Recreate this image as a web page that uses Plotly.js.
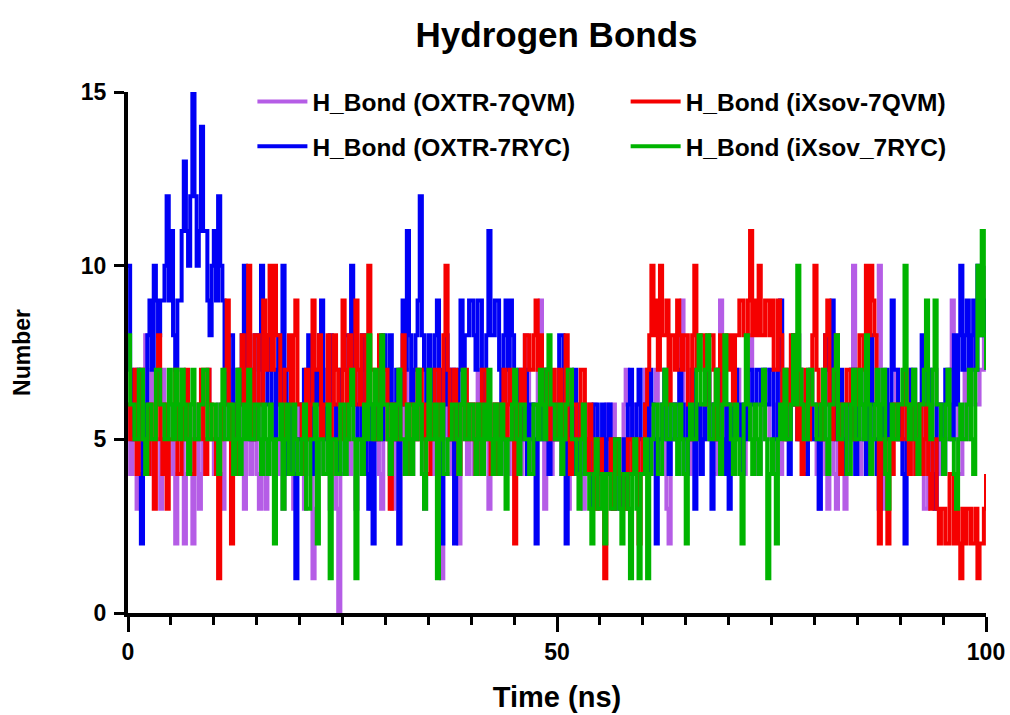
<!DOCTYPE html>
<html>
<head>
<meta charset="utf-8">
<script src="https://cdn.plot.ly/plotly-3.0.1.min.js"></script>
<style>
  html, body { margin: 0; padding: 0; background: #fff; }
  #chart { width: 1010px; height: 715px; }
</style>
</head>
<body>
<div id="chart"></div>
<script>
// Hydrogen-bond counts sampled every 0.25 ns over a 100 ns trajectory
const timeStep = 0.25;
const nFrames = 401;
const timeNs = Array.from({length: nFrames}, (_, i) => i * timeStep);

const seriesNames = [
  'H_Bond (OXTR-7QVM)',
  'H_Bond (OXTR-7RYC)',
  'H_Bond (iXsov-7QVM)',
  'H_Bond (iXsov_7RYC)'
];

// one row = 10 ns
const hbOxtr7qvm = [
  6,4, 5,6, 3,5, 7,6, 8,5, 4,7, 6,5, 5,3, 7,5, 4,6, 6,4, 2,5, 5,7, 2,4, 6,5, 2,6, 5,3, 4,6, 6,7, 5,5,
  4,5, 6,4, 3,6, 5,5, 7,4, 4,6, 5,7, 3,5, 6,4, 5,6, 4,3, 7,5, 3,4, 5,6, 6,5, 4,7, 3,5, 5,4, 6,3, 4,6,
  5,4, 3,5, 6,4, 1,3, 5,6, 4,5, 6,4, 3,6, 5,3, 0,4, 4,5, 6,4, 5,7, 3,5, 7,4, 5,6, 4,3, 6,5, 5,4, 3,6,
  5,6, 4,3, 6,5, 2,4, 5,7, 6,4, 4,5, 7,6, 5,4, 3,5, 6,5, 4,6, 5,3, 1,5, 6,4, 4,7, 5,4, 2,5, 6,5, 4,6,
  5,4, 6,7, 4,5, 7,5, 3,6, 5,4, 6,5, 4,6, 7,4, 5,6, 4,5, 6,4, 5,8, 7,5, 4,6, 6,7, 9,5, 3,7, 6,4, 5,6,
  6,5, 4,6, 5,3, 7,5, 4,6, 5,4, 3,5, 6,4, 5,6, 4,5, 3,4, 5,6, 4,3, 6,5, 5,4, 4,6, 7,5, 5,6, 6,4, 4,5,
  5,7, 6,4, 4,6, 7,5, 5,4, 6,3, 2,5, 5,6, 6,8, 9,6, 5,4, 7,5, 4,6, 6,5, 5,7, 7,6, 6,4, 4,7, 9,6, 5,6,
  6,5, 4,6, 7,5, 5,4, 6,7, 8,6, 5,4, 4,5, 6,7, 7,5, 5,4, 6,5, 4,6, 7,5, 5,6, 6,7, 8,5, 5,4, 4,6, 6,5,
  5,4, 3,5, 6,4, 3,6, 7,4, 3,5, 6,4, 3,6, 5,7, 10,6, 6,4, 5,7, 7,5, 4,6, 6,8, 10,5, 3,5, 6,4, 5,6, 7,5,
  6,5, 4,6, 7,5, 5,4, 4,6, 6,3, 3,5, 5,7, 7,4, 4,6, 6,5, 5,7, 9,6, 6,4, 4,5, 7,6, 5,7, 8,6, 6,7, 7,9, 10
];

const hbOxtr7ryc = [
  10,7, 5,6, 7,4, 2,5, 6,8, 9,7, 10,9, 8,9, 9,10, 12,9, 11,8, 7,9, 9,11, 13,11, 10,12, 15,12, 10,11, 14,11, 11,9, 8,10,
  11,9, 12,10, 9,7, 6,8, 8,6, 4,7, 6,8, 10,7, 7,5, 5,8, 8,7, 10,6, 6,8, 7,5, 5,7, 8,6, 10,7, 4,6, 6,4, 1,5,
  5,6, 7,5, 8,6, 4,7, 6,8, 9,6, 5,7, 8,6, 6,5, 4,7, 7,8, 8,6, 10,7, 6,5, 5,8, 7,4, 3,6, 2,5, 6,7, 5,8,
  7,6, 8,6, 5,7, 2,6, 9,7, 11,8, 6,7, 8,9, 12,8, 7,6, 8,7, 6,8, 9,7, 2,6, 8,6, 5,7, 2,5, 7,9, 6,8, 8,9,
  9,8, 7,9, 9,6, 6,8, 11,8, 8,9, 9,7, 5,8, 9,7, 9,8, 6,5, 7,6, 5,7, 4,6, 6,5, 2,5, 5,6, 7,5, 4,6, 6,5,
  6,8, 8,5, 2,6, 5,4, 7,5, 4,6, 6,5, 5,4, 3,6, 6,4, 5,6, 4,5, 6,4, 3,5, 4,3, 4,5, 3,6, 7,5, 5,6, 7,5,
  5,6, 4,7, 6,5, 2,5, 5,6, 7,5, 4,6, 6,5, 5,7, 6,4, 4,6, 5,7, 3,5, 6,4, 5,6, 7,5, 3,6, 5,7, 6,5, 4,6,
  3,5, 6,7, 5,6, 4,6, 5,7, 7,6, 6,7, 7,6, 7,6, 6,7, 7,5, 5,7, 9,6, 6,5, 4,7, 8,6, 5,7, 6,4, 4,6, 7,5,
  5,6, 3,5, 6,8, 7,6, 9,7, 5,6, 7,5, 4,6, 6,7, 5,4, 7,6, 6,5, 4,6, 8,6, 5,4, 3,5, 6,7, 5,6, 9,7, 7,5,
  6,4, 2,5, 5,7, 7,5, 4,6, 8,6, 6,7, 5,4, 3,6, 6,5, 4,7, 7,6, 5,8, 6,8, 10,7, 8,9, 7,8, 9,7, 10,8, 8,9, 7
];

const hbIxsov7qvm = [
  6,5, 5,7, 4,6, 7,5, 5,4, 6,5, 3,6, 8,5, 4,6, 3,5, 5,6, 7,4, 4,6, 5,7, 6,4, 4,5, 5,6, 7,5, 4,7, 6,5,
  5,4, 1,5, 6,7, 9,6, 2,5, 4,6, 7,8, 6,7, 10,7, 5,8, 8,6, 6,9, 7,8, 10,7, 10,8, 8,6, 5,7, 7,8, 6,8, 9,6,
  6,5, 4,7, 5,6, 9,7, 7,8, 5,6, 6,8, 4,6, 8,7, 6,5, 9,7, 5,8, 7,6, 9,7, 6,8, 8,6, 10,7, 7,5, 5,8, 6,7,
  7,5, 3,6, 6,5, 5,7, 8,6, 4,6, 6,5, 5,7, 7,5, 6,4, 4,6, 5,7, 7,5, 6,8, 10,7, 5,6, 7,5, 4,6, 6,7, 5,6,
  6,5, 4,6, 5,7, 7,5, 6,4, 5,6, 4,5, 6,7, 5,6, 7,5, 2,6, 5,7, 6,8, 8,7, 7,8, 9,7, 8,6, 6,7, 5,6, 7,5,
  6,7, 5,6, 8,5, 4,6, 6,5, 5,7, 7,5, 4,6, 5,4, 3,5, 5,4, 1,4, 4,5, 3,4, 5,4, 4,3, 3,5, 5,4, 4,5, 2,4,
  5,6, 7,8, 10,8, 9,7, 10,8, 8,9, 6,8, 8,7, 9,8, 7,8, 8,6, 5,8, 10,7, 7,8, 8,6, 6,8, 8,7, 5,7, 8,6, 7,8,
  7,8, 6,8, 8,9, 9,8, 8,9, 11,8, 9,8, 10,8, 8,9, 9,8, 9,7, 7,9, 8,6, 5,7, 6,8, 8,6, 5,7, 4,6, 7,5, 6,8,
  10,7, 6,5, 7,8, 9,6, 5,7, 8,6, 4,6, 6,7, 7,5, 5,7, 6,8, 8,7, 10,8, 10,9, 8,6, 2,5, 5,4, 2,5, 4,6, 6,5,
  5,6, 7,5, 4,6, 6,4, 5,6, 4,5, 6,4, 3,5, 5,3, 2,3, 3,2, 2,4, 4,2, 3,2, 1,3, 2,3, 3,2, 2,3, 1,2, 2,3, 4
];

const hbIxsov7ryc = [
  8,6, 6,5, 5,7, 7,5, 4,6, 6,5, 5,7, 7,6, 6,5, 5,7, 6,5, 7,6, 5,7, 6,5, 4,6, 7,5, 5,6, 6,7, 7,5, 5,6,
  6,5, 4,6, 7,5, 5,6, 6,4, 5,7, 4,5, 6,5, 7,5, 5,6, 6,5, 4,6, 5,4, 6,5, 2,5, 5,6, 3,5, 6,4, 4,6, 5,4,
  4,5, 6,3, 3,5, 5,6, 2,5, 5,4, 4,6, 1,5, 5,4, 4,6, 6,4, 5,6, 7,5, 1,5, 5,4, 6,5, 8,6, 5,7, 6,5, 8,6,
  6,5, 4,6, 5,6, 7,5, 5,4, 6,5, 4,6, 5,7, 6,4, 3,5, 7,5, 5,6, 1,5, 6,4, 4,5, 5,6, 6,5, 4,6, 7,5, 5,6,
  6,5, 4,6, 5,4, 6,5, 7,5, 4,6, 5,4, 6,5, 3,5, 5,6, 7,5, 4,6, 6,5, 5,4, 4,6, 6,5, 7,6, 5,7, 8,6, 6,5,
  5,6, 4,5, 6,7, 7,5, 5,4, 3,5, 6,4, 4,3, 2,4, 5,3, 3,4, 2,4, 4,3, 3,5, 5,3, 2,4, 4,3, 1,4, 5,3, 1,4,
  4,5, 1,4, 5,6, 6,4, 4,6, 7,5, 5,6, 6,5, 4,6, 5,4, 2,5, 6,5, 5,7, 8,6, 6,7, 8,5, 5,6, 7,5, 4,6, 8,6,
  6,5, 4,6, 5,4, 2,6, 8,6, 5,4, 6,5, 4,6, 7,5, 1,4, 5,4, 2,5, 6,5, 7,5, 5,6, 8,6, 10,7, 6,5, 5,7, 7,6,
  6,5, 5,6, 7,5, 4,6, 6,7, 8,5, 5,6, 6,4, 4,6, 7,5, 5,7, 6,5, 8,6, 4,5, 6,7, 5,6, 7,4, 3,5, 6,5, 5,6,
  6,7, 10,6, 5,6, 7,5, 4,6, 6,7, 9,6, 5,7, 9,6, 6,5, 4,6, 7,5, 5,4, 3,5, 6,5, 5,6, 7,5, 4,7, 10,8, 11,8, 7
];

const seriesValues = [hbOxtr7qvm, hbOxtr7ryc, hbIxsov7qvm, hbIxsov7ryc];
const seriesColors = ['#b55de6', '#0000f5', '#f50000', '#00b400'];
const seriesLegend = ['legend', 'legend', 'legend2', 'legend2'];

const FONT = 'Liberation Sans, Arial, Helvetica, sans-serif';

const traces = seriesNames.map((name, k) => ({
  type: 'scatter',
  mode: 'lines',
  name: name,
  x: timeNs,
  y: seriesValues[k],
  line: {color: seriesColors[k], width: 4, shape: 'hv'},
  legend: seriesLegend[k],
  legendgroup: 'g' + k,
  hoverinfo: 'x+y+name'
}));

const legendStyle = {
  orientation: 'v',
  xanchor: 'left',
  yanchor: 'top',
  y: 1.025,
  itemwidth: 50,
  bgcolor: 'rgba(0,0,0,0)',
  borderwidth: 0,
  tracegroupgap: 10,
  font: {family: FONT, size: 24.5, color: '#000', weight: 700}
};

const layout = {
  width: 1010,
  height: 715,
  paper_bgcolor: '#fff',
  plot_bgcolor: '#fff',
  margin: {l: 128, r: 24, t: 92, b: 102},
  showlegend: true,
  title: {
    text: 'Hydrogen Bonds',
    font: {family: FONT, size: 35, color: '#000', weight: 700},
    x: 0.551, xanchor: 'center',
    y: 0.952, yanchor: 'middle', yref: 'container'
  },
  legend: Object.assign({}, legendStyle, {x: 0.145}),
  legend2: Object.assign({}, legendStyle, {x: 0.58}),
  xaxis: {
    range: [0, 100],
    tick0: 0, dtick: 50,
    ticks: 'outside', ticklen: 15, tickwidth: 3, tickcolor: '#000',
    showline: true, linewidth: 4, linecolor: '#000',
    showgrid: false, zeroline: false,
    tickfont: {family: FONT, size: 23, color: '#000', weight: 700},
    minor: {dtick: 5, tick0: 0, ticks: 'outside', ticklen: 8, tickwidth: 3, tickcolor: '#000', showgrid: false},
    title: {text: 'Time (ns)', font: {family: FONT, size: 29, color: '#000', weight: 700}, standoff: 24}
  },
  yaxis: {
    range: [0, 15],
    tick0: 0, dtick: 5,
    ticks: 'outside', ticklen: 10, tickwidth: 3, tickcolor: '#000',
    ticklabelstandoff: 3,
    showline: true, linewidth: 4, linecolor: '#000',
    showgrid: false, zeroline: false,
    tickfont: {family: FONT, size: 23, color: '#000', weight: 700},
    title: {text: 'Number', font: {family: FONT, size: 23, color: '#000', weight: 700}, standoff: 45}
  }
};

Plotly.newPlot('chart', traces, layout, {displayModeBar: false});
</script>
</body>
</html>
